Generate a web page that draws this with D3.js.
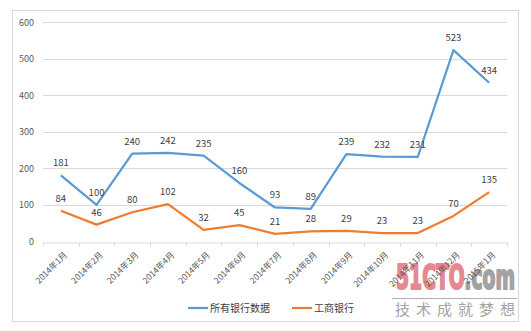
<!DOCTYPE html>
<html><head><meta charset="utf-8">
<script src="https://cdn.jsdelivr.net/npm/d3@7"></script>
<style>body{margin:0;background:#fff}svg{display:block}</style>
</head><body>
<script>
const categories = ["2014年1月","2014年2月","2014年3月","2014年4月","2014年5月","2014年6月","2014年7月","2014年8月","2014年9月","2014年10月","2014年11月","2014年12月","2015年1月"];
const allBanks = [181,100,240,242,235,160,93,89,239,232,231,523,434];
const icbc = [84,46,80,102,32,45,21,28,29,23,23,70,135];
const yTicks = [0,100,200,300,400,500,600];
const seriesNames = ["所有银行数据","工商银行"];
const colors = ["#5B9BD5","#ED7D31"];

const W=531,H=331;
const svg=d3.select("body").append("svg").attr("width",W).attr("height",H);
svg.append("rect").attr("x",12.5).attr("y",10.5).attr("width",506).attr("height",311).attr("fill","#fff").attr("stroke","#d9d9d9");

const x=d3.scaleBand().domain(categories).range([43,507]);
const y=d3.scaleLinear().domain([0,600]).range([241.5,22]);
const font="'Noto Sans CJK SC','Noto Sans',sans-serif";

// watermark (behind)
const wm=svg.append("g").attr("opacity",0.8);
wm.append("text").attr("x",396).attr("y",289).attr("font-family","'DejaVu Sans','Liberation Sans',sans-serif")
 .attr("font-weight","bold").attr("font-size",34).attr("textLength",119).attr("lengthAdjust","spacingAndGlyphs")
 .attr("stroke-width",2.2).attr("stroke-linejoin","round")
 .html('<tspan fill="#e06a78" stroke="#e06a78">51CTO</tspan><tspan fill="#8c8c8c" stroke="#8c8c8c">.com</tspan>');
wm.append("line").attr("x1",392).attr("x2",517).attr("y1",298.5).attr("y2",298.5).attr("stroke","#9a9a9a");
wm.append("text").attr("x",395).attr("y",315).attr("font-family",font).attr("font-size",15)
 .attr("fill","#8c8c8c").attr("textLength",120).attr("lengthAdjust","spacing").text("技术成就梦想");

// gridlines
svg.append("g").selectAll("line").data(yTicks.filter(d=>d>0)).join("line")
 .attr("x1",43).attr("x2",507).attr("y1",d=>Math.round(y(d))+0.5).attr("y2",d=>Math.round(y(d))+0.5)
 .attr("stroke","#d9d9d9");
// y labels
svg.append("g").selectAll("text").data(yTicks).join("text")
 .attr("x",34).attr("y",d=>y(d)+3.5).attr("text-anchor","end")
 .attr("font-family",font).attr("font-size",9).attr("fill","#595959").text(d=>d);
// x axis
const xa=svg.append("g").attr("transform",`translate(0,${Math.round(y(0))+0.5})`)
 .call(d3.axisBottom(x).tickSize(4).tickSizeOuter(0));
xa.select(".domain").attr("stroke","#d9d9d9");
xa.selectAll(".tick line").remove();
const bounds=categories.map(c=>x(c)).concat([507]);
xa.selectAll(".bt").data(bounds).join("line").attr("class","bt")
 .attr("x1",d=>Math.round(d)+0.5).attr("x2",d=>Math.round(d)+0.5).attr("y1",0).attr("y2",4).attr("stroke","#d9d9d9");
xa.selectAll(".tick text").attr("font-family",font).attr("font-size",8.5).attr("fill","#595959")
 .attr("text-anchor","end").attr("dy",0).attr("y",0)
 .attr("transform","translate(7,13) rotate(-45)");

const line=d3.line().x((d,i)=>x(categories[i])+x.bandwidth()/2).y(d=>y(d));
[allBanks,icbc].forEach((s,k)=>{
  svg.append("path").datum(s).attr("d",line).attr("fill","none").attr("stroke",colors[k])
   .attr("stroke-width",2.25).attr("stroke-linejoin","round");
});
[allBanks,icbc].forEach((s,k)=>{
  svg.append("g").selectAll("text").data(s).join("text")
   .attr("x",(d,i)=>x(categories[i])+x.bandwidth()/2).attr("y",d=>y(d)-9)
   .attr("text-anchor","middle").attr("font-family",font).attr("font-size",9.5).attr("fill","#404040").text(d=>d);
});

// legend
const lg=[{x:188,t:seriesNames[0],c:colors[0]},{x:292,t:seriesNames[1],c:colors[1]}];
lg.forEach(l=>{
  svg.append("line").attr("x1",l.x).attr("x2",l.x+20).attr("y1",308).attr("y2",308).attr("stroke",l.c).attr("stroke-width",2.25);
  svg.append("text").attr("x",l.x+22).attr("y",312).attr("font-family",font).attr("font-size",10).attr("fill","#404040").text(l.t);
});
</script>
</body></html>
